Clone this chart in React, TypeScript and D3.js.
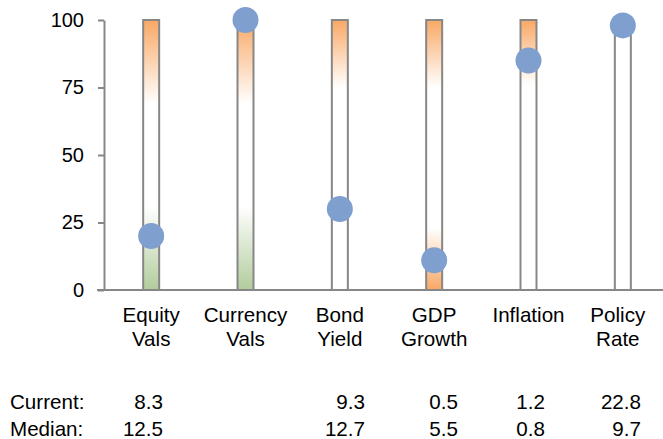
import { useEffect, useRef } from 'react';
import * as d3 from 'd3';

const categories = [['Equity', 'Vals'], ['Currency', 'Vals'], ['Bond', 'Yield'], ['GDP', 'Growth'], ['Inflation'], ['Policy', 'Rate']];
const percentile = [20, 100, 30, 11, 85, 98];
// where the gradients fade into white (percentile scale), null = no fade band
const orangeTopTo: (number | null)[] = [69, 69, 75, 75, 76, null];
const greenBottomFrom: (number | null)[] = [31, 31, null, null, null, null];
const orangeBottomFrom: (number | null)[] = [null, null, null, 23, null, null];
const yTicks = [0, 25, 50, 75, 100];
const rowLabels = ['Current:', 'Median:'];
const currentRow = ['8.3', '', '9.3', '0.5', '1.2', '22.8'];
const medianRow = ['12.5', '', '12.7', '5.5', '0.8', '9.7'];

const W = 663;
const H = 439;
const FONT = '"Liberation Sans", Arial, sans-serif';
const ORANGE = '#F9A865';
const GREEN = '#B2CC9C';
const GREY = '#878787';
const DOT = '#7F9FCF';
// right edges of the table columns underneath
const colRight = [163, 262, 365, 458, 545, 641];

export default function App() {
  const svgRef = useRef<SVGSVGElement>(null);

  useEffect(() => {
    if (!svgRef.current) return;
    const svg = d3.select(svgRef.current);
    svg.selectAll('*').remove();

    const names = categories.map((c) => c.join(' '));
    const x = d3.scaleBand<string>().domain(names).range([104, 670]);
    const y = d3.scaleLinear().domain([0, 100]).range([290, 20]);
    const barW = 16;
    const off = (v: number) => (100 - v) / 100;

    const defs = svg.append('defs');
    names.forEach((n, i) => {
      const g = defs.append('linearGradient').attr('id', `grad${i}`)
        .attr('gradientUnits', 'userSpaceOnUse')
        .attr('x1', 0).attr('x2', 0).attr('y1', y(100)).attr('y2', y(0));
      const stops: [number, string][] = [];
      const ot = orangeTopTo[i];
      if (ot != null) { stops.push([0, ORANGE]); stops.push([off(ot), '#ffffff']); }
      else stops.push([0, '#ffffff']);
      const gb = greenBottomFrom[i];
      const ob = orangeBottomFrom[i];
      if (gb != null) { stops.push([off(gb), '#ffffff']); stops.push([1, GREEN]); }
      else if (ob != null) { stops.push([off(ob), '#ffffff']); stops.push([1, ORANGE]); }
      else stops.push([1, '#ffffff']);
      stops.forEach(([o, c]) => g.append('stop').attr('offset', o).attr('stop-color', c));
    });

    svg.append('g').selectAll('rect')
      .data(names)
      .join('rect')
      .attr('x', (d) => x(d)! + x.bandwidth() / 2 - barW / 2)
      .attr('y', y(100))
      .attr('width', barW)
      .attr('height', y(0) - y(100))
      .attr('fill', (_, i) => `url(#grad${i})`)
      .attr('stroke', GREY)
      .attr('stroke-width', 2);

    const yAxis = svg.append('g').attr('transform', 'translate(104,0)')
      .call(d3.axisLeft(y).tickValues(yTicks).tickSize(6).tickSizeOuter(0).tickPadding(14));
    yAxis.select('.domain').attr('stroke', GREY).attr('stroke-width', 2);
    yAxis.selectAll('.tick line').attr('stroke', GREY).attr('stroke-width', 2);
    yAxis.selectAll('.tick text').attr('fill', '#000').attr('font-size', 20).attr('font-family', FONT);

    svg.append('line').attr('x1', 97).attr('x2', W).attr('y1', y(0)).attr('y2', y(0))
      .attr('stroke', GREY).attr('stroke-width', 2);

    svg.append('g').selectAll('circle')
      .data(percentile)
      .join('circle')
      .attr('cx', (_, i) => x(names[i])! + x.bandwidth() / 2)
      .attr('cy', (d) => y(d))
      .attr('r', 13)
      .attr('fill', DOT);

    const labels = svg.append('g').attr('font-family', FONT).attr('font-size', 20.6).attr('fill', '#000');
    categories.forEach((lines, i) => {
      const cx = x(names[i])! + x.bandwidth() / 2 - (i === categories.length - 1 ? 5 : 0);
      lines.forEach((t, j) => {
        labels.append('text').attr('x', cx).attr('y', 322 + j * 24)
          .attr('text-anchor', 'middle').text(t);
      });
    });

    const table = svg.append('g').attr('font-family', FONT).attr('font-size', 20.6).attr('fill', '#000');
    [currentRow, medianRow].forEach((row, r) => {
      const by = 409 + r * 27;
      table.append('text').attr('x', 10).attr('y', by).text(rowLabels[r]);
      row.forEach((v, i) => {
        table.append('text').attr('x', colRight[i]).attr('y', by).attr('text-anchor', 'end').text(v);
      });
    });
  }, []);

  return (
    <svg ref={svgRef} width={W} height={H}
      style={{ position: 'absolute', left: 0, top: 0, background: '#fff' }} />
  );
}
